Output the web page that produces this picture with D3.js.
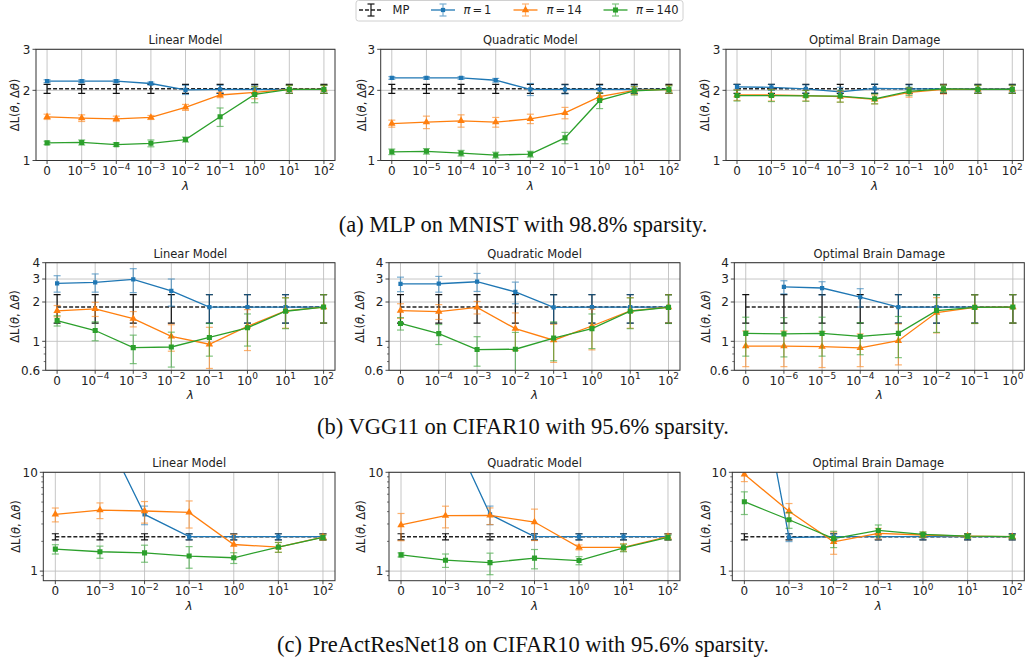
<!DOCTYPE html>
<html>
<head>
<meta charset="utf-8">
<script src="https://cdn.jsdelivr.net/npm/d3@7"></script>
<style>
  body { margin: 0; background: #fff; }
  svg { display: block; }
</style>
</head>
<body>
<svg id="fig" width="1026" height="659"></svg>
<script>
// ---------------- lambda tick labels ("0" = no penalty, "1eK" = 10^K) ----------------
const lambdaA    = ["0", "1e-5", "1e-4", "1e-3", "1e-2", "1e-1", "1e0", "1e1", "1e2"];
const lambdaB    = ["0", "1e-4", "1e-3", "1e-2", "1e-1", "1e0", "1e1", "1e2"];
const lambdaBObd = ["0", "1e-6", "1e-5", "1e-4", "1e-3", "1e-2", "1e-1", "1e0"];
const lambdaC    = ["0", "1e-3", "1e-2", "1e-1", "1e0", "1e1", "1e2"];

const legendLabels = ["MP", "1", "14", "140"];
const captions = [
  "(a) MLP on MNIST with 98.8% sparsity.",
  "(b) VGG11 on CIFAR10 with 95.6% sparsity.",
  "(c) PreActResNet18 on CIFAR10 with 95.6% sparsity."
];
const panelTitles = ["Linear Model", "Quadratic Model", "Optimal Brain Damage"];

// y ticks per row
const yTicksA = [1, 2, 3];
const yTicksB = [0.6, 1, 2, 3, 4];
const yTicksC = [1, 10];
const yMinorB = [0.7, 0.8, 0.9];
const yMinorC = [0.9, 2, 3, 4, 5, 6, 7, 8, 9];

// ---------------- (a) MLP on MNIST ----------------
const aMP    = [2.03, 2.03, 2.03, 2.03, 2.03, 2.03, 2.03, 2.03, 2.03];
const aMPErr = [0.09, 0.09, 0.09, 0.09, 0.09, 0.09, 0.09, 0.09, 0.09];

const aLinPi1      = [2.19, 2.19, 2.19, 2.14, 2.01, 2.02, 2.02, 2.02, 2.02];
const aLinPi1Err   = [0.03, 0.03, 0.03, 0.03, 0.09, 0.08, 0.08, 0.08, 0.08];
const aLinPi14     = [1.54, 1.52, 1.51, 1.53, 1.69, 1.91, 1.96, 2.02, 2.02];
const aLinPi14Err  = [0.04, 0.05, 0.04, 0.03, 0.05, 0.05, 0.12, 0.08, 0.08];
const aLinPi140    = [1.19, 1.195, 1.17, 1.185, 1.23, 1.54, 1.92, 2.02, 2.02];
const aLinPi140Err = [0.02, 0.03, 0.02, 0.04, 0.03, 0.14, 0.15, 0.08, 0.08];

const aQuadPi1      = [2.26, 2.26, 2.26, 2.21, 2.02, 2.02, 2.02, 2.02, 2.02];
const aQuadPi1Err   = [0.03, 0.03, 0.03, 0.04, 0.12, 0.09, 0.08, 0.08, 0.08];
const aQuadPi14     = [1.44, 1.46, 1.48, 1.46, 1.51, 1.60, 1.88, 2.00, 2.02];
const aQuadPi14Err  = [0.05, 0.09, 0.09, 0.07, 0.07, 0.09, 0.07, 0.08, 0.08];
const aQuadPi140    = [1.09, 1.095, 1.075, 1.055, 1.065, 1.25, 1.81, 1.99, 2.02];
const aQuadPi140Err = [0.03, 0.03, 0.03, 0.03, 0.03, 0.07, 0.14, 0.08, 0.07];

const aObdPi1      = [2.07, 2.06, 2.03, 1.97, 2.04, 2.03, 2.03, 2.03, 2.03];
const aObdPi1Err   = [0.05, 0.06, 0.08, 0.09, 0.09, 0.08, 0.08, 0.08, 0.08];
const aObdPi14     = [1.91, 1.91, 1.90, 1.88, 1.83, 1.96, 2.02, 2.02, 2.02];
const aObdPi14Err  = [0.10, 0.11, 0.10, 0.10, 0.08, 0.09, 0.09, 0.08, 0.08];
const aObdPi140    = [1.90, 1.90, 1.895, 1.89, 1.84, 1.98, 2.03, 2.02, 2.02];
const aObdPi140Err = [0.10, 0.11, 0.10, 0.11, 0.09, 0.08, 0.07, 0.08, 0.08];

// ---------------- (b) VGG11 on CIFAR10 ----------------
const bMP    = [1.83, 1.83, 1.83, 1.83, 1.83, 1.83, 1.83, 1.83];
const bMPErr = [0.45, 0.45, 0.45, 0.45, 0.45, 0.45, 0.45, 0.45];

const bLinPi1      = [2.78, 2.83, 2.98, 2.43, 1.83, 1.83, 1.83, 1.83];
const bLinPi1Err   = [0.40, 0.45, 0.62, 0.57, 0.45, 0.45, 0.45, 0.45];
const bLinPi14     = [1.71, 1.77, 1.49, 1.09, 0.95, 1.30, 1.71, 1.83];
const bLinPi14Err  = [0.17, 0.22, 0.20, 0.25, 0.33, 0.45, 0.45, 0.45];
const bLinPi140    = [1.44, 1.21, 0.895, 0.905, 1.07, 1.27, 1.70, 1.83];
const bLinPi140Err = [0.13, 0.20, 0.22, 0.27, 0.30, 0.35, 0.45, 0.45];

const bQuadPi1      = [2.75, 2.76, 2.86, 2.39, 1.82, 1.83, 1.83, 1.83];
const bQuadPi1Err   = [0.35, 0.38, 0.45, 0.45, 0.45, 0.45, 0.45, 0.45];
const bQuadPi14     = [1.72, 1.69, 1.82, 1.25, 1.02, 1.31, 1.71, 1.83];
const bQuadPi14Err  = [0.22, 0.22, 0.20, 0.40, 0.33, 0.45, 0.45, 0.45];
const bQuadPi140    = [1.37, 1.145, 0.865, 0.87, 1.06, 1.25, 1.70, 1.82];
const bQuadPi140Err = [0.15, 0.20, 0.22, 0.30, 0.35, 0.37, 0.45, 0.45];

const bObdPi1      = [null, 2.61, 2.56, 2.18, 1.83, 1.83, 1.83, 1.83];
const bObdPi1Err   = [null, 0.30, 0.30, 0.35, 0.45, 0.45, 0.45, 0.45];
const bObdPi14     = [0.92, 0.92, 0.91, 0.89, 1.01, 1.66, 1.82, 1.83];
const bObdPi14Err  = [0.28, 0.28, 0.28, 0.25, 0.35, 0.50, 0.45, 0.45];
const bObdPi140    = [1.15, 1.14, 1.15, 1.09, 1.15, 1.72, 1.82, 1.83];
const bObdPi140Err = [0.38, 0.38, 0.38, 0.30, 0.40, 0.55, 0.45, 0.45];

// ---------------- (c) PreActResNet18 on CIFAR10 ----------------
const cMP    = [2.23, 2.23, 2.23, 2.23, 2.23, 2.23, 2.23];
const cMPErr = [0.16, 0.16, 0.16, 0.16, 0.16, 0.16, 0.16];

const cLinPi1      = [90, 31, 3.75, 2.23, 2.23, 2.23, 2.23];
const cLinPi1Err   = [0, 0, 0.80, 0.15, 0.15, 0.15, 0.15];
const cLinPi14     = [3.75, 4.15, 4.06, 3.93, 1.86, 1.75, 2.21];
const cLinPi14Err  = [0.60, 0.75, 1.00, 1.20, 0.50, 0.20, 0.15];
const cLinPi140    = [1.67, 1.57, 1.53, 1.42, 1.365, 1.75, 2.19];
const cLinPi140Err = [0.18, 0.22, 0.30, 0.35, 0.17, 0.20, 0.12];

const cQuadPi1      = [100, 35, 3.75, 2.23, 2.23, 2.23, 2.23];
const cQuadPi1Err   = [0, 0, 0.80, 0.15, 0.15, 0.15, 0.15];
const cQuadPi14     = [2.93, 3.64, 3.66, 3.14, 1.74, 1.74, 2.23];
const cQuadPi14Err  = [0.90, 0.90, 0.70, 1.10, 0.10, 0.15, 0.15];
const cQuadPi140    = [1.46, 1.29, 1.22, 1.355, 1.28, 1.72, 2.19];
const cQuadPi140Err = [0.07, 0.20, 0.30, 0.30, 0.12, 0.15, 0.12];

const cObdPi1      = [540, 2.19, 2.23, 2.23, 2.23, 2.23, 2.23];
const cObdPi1Err   = [0, 0.20, 0.15, 0.15, 0.15, 0.15, 0.15];
const cObdPi14     = [9.55, 4.03, 1.98, 2.41, 2.32, 2.26, 2.23];
const cObdPi14Err  = [1.50, 0.80, 0.50, 0.30, 0.15, 0.10, 0.10];
const cObdPi140    = [5.04, 3.31, 2.13, 2.58, 2.35, 2.26, 2.23];
const cObdPi140Err = [1.30, 0.60, 0.40, 0.35, 0.15, 0.10, 0.10];

// ---------------- styling ----------------
const FONT = "'DejaVu Sans', sans-serif";
const COLORS = ["#1f77b4", "#ff7f0e", "#2ca02c"];
const SYMBOLS = [
  d3.symbol().type(d3.symbolSquare).size(18),
  d3.symbol().type(d3.symbolTriangle).size(24),
  d3.symbol().type(d3.symbolSquare).size(26)
];

// ---------------- layout of the three rows ----------------
const rows = [
  { top: 49.3,  bottom: 160.5, pad: 0.32, yDomain: [1, 3],    yTicks: yTicksA, yMinor: [],      caption: captions[0], capY: 232 },
  { top: 262.7, bottom: 370.3, pad: 0.30, yDomain: [0.6, 4],  yTicks: yTicksB, yMinor: yMinorB, caption: captions[1], capY: 434 },
  { top: 472.3, bottom: 580.7, pad: 0.27, yDomain: [0.8, 10], yTicks: yTicksC, yMinor: yMinorC, caption: captions[2], capY: 652 }
];

const panels = [
  { row: 0, x0: 36,    x1: 335,    yl: 19,  title: panelTitles[0], cats: lambdaA, mp: [aMP, aMPErr],
    s: [[aLinPi1, aLinPi1Err], [aLinPi14, aLinPi14Err], [aLinPi140, aLinPi140Err]] },
  { row: 0, x0: 380.7, x1: 680,    yl: 366, title: panelTitles[1], cats: lambdaA, mp: [aMP, aMPErr],
    s: [[aQuadPi1, aQuadPi1Err], [aQuadPi14, aQuadPi14Err], [aQuadPi140, aQuadPi140Err]] },
  { row: 0, x0: 726,   x1: 1023.3, yl: 709, title: panelTitles[2], cats: lambdaA, mp: [aMP, aMPErr],
    s: [[aObdPi1, aObdPi1Err], [aObdPi14, aObdPi14Err], [aObdPi140, aObdPi140Err]] },

  { row: 1, x0: 45.7,  x1: 335,    yl: 19,  title: panelTitles[0], cats: lambdaB, mp: [bMP, bMPErr],
    s: [[bLinPi1, bLinPi1Err], [bLinPi14, bLinPi14Err], [bLinPi140, bLinPi140Err]] },
  { row: 1, x0: 389,   x1: 680,    yl: 364, title: panelTitles[1], cats: lambdaB, mp: [bMP, bMPErr],
    s: [[bQuadPi1, bQuadPi1Err], [bQuadPi14, bQuadPi14Err], [bQuadPi140, bQuadPi140Err]] },
  { row: 1, x0: 734.3, x1: 1024.3, yl: 710, title: panelTitles[2], cats: lambdaBObd, mp: [bMP, bMPErr],
    s: [[bObdPi1, bObdPi1Err], [bObdPi14, bObdPi14Err], [bObdPi140, bObdPi140Err]] },

  { row: 2, x0: 43.3,  x1: 335,    yl: 20,  title: panelTitles[0], cats: lambdaC, mp: [cMP, cMPErr],
    s: [[cLinPi1, cLinPi1Err], [cLinPi14, cLinPi14Err], [cLinPi140, cLinPi140Err]] },
  { row: 2, x0: 389,   x1: 680,    yl: 365, title: panelTitles[1], cats: lambdaC, mp: [cMP, cMPErr],
    s: [[cQuadPi1, cQuadPi1Err], [cQuadPi14, cQuadPi14Err], [cQuadPi140, cQuadPi140Err]] },
  { row: 2, x0: 732.3, x1: 1024.3, yl: 710, title: panelTitles[2], cats: lambdaC, mp: [cMP, cMPErr],
    s: [[cObdPi1, cObdPi1Err], [cObdPi14, cObdPi14Err], [cObdPi140, cObdPi140Err]] }
];

const svg = d3.select("#fig");

// writes "0" or "10" with a superscript exponent
function lambdaLabel(sel, s) {
  if (s === "0") { sel.text("0"); return; }
  const exp = s.slice(2).replace("-", "\u2212");
  sel.append("tspan").text("10");
  sel.append("tspan").attr("dy", -5.5).attr("font-size", 9).text(exp);
}

function drawErrorBars(g, x, y, vals, errs, color, opacity, cap) {
  vals.forEach((v, i) => {
    if (v == null || !errs[i]) return;
    const lo = y(Math.max(v - errs[i], 1e-3)), hi = y(v + errs[i]), cx = x(i);
    const eg = g.append("g").attr("stroke", color).attr("stroke-width", 1.2).attr("opacity", opacity);
    eg.append("line").attr("x1", cx).attr("x2", cx).attr("y1", lo).attr("y2", hi);
    eg.append("line").attr("x1", cx - cap).attr("x2", cx + cap).attr("y1", lo).attr("y2", lo);
    eg.append("line").attr("x1", cx - cap).attr("x2", cx + cap).attr("y1", hi).attr("y2", hi);
  });
}

panels.forEach((p, pi) => {
  const r = rows[p.row];
  const n = p.cats.length;
  const x = d3.scalePoint().domain(d3.range(n)).range([p.x0, p.x1]).padding(r.pad);
  const y = d3.scaleLog().domain(r.yDomain).range([r.bottom, r.top]);
  const g = svg.append("g");

  const clipId = "clip" + pi;
  g.append("clipPath").attr("id", clipId).append("rect")
    .attr("x", p.x0).attr("y", r.top).attr("width", p.x1 - p.x0).attr("height", r.bottom - r.top);

  // grid
  const grid = g.append("g").attr("stroke", "#bfbfbf").attr("stroke-width", 0.9);
  d3.range(n).forEach(i => grid.append("line")
    .attr("x1", x(i)).attr("x2", x(i)).attr("y1", r.top).attr("y2", r.bottom));
  r.yTicks.forEach(t => grid.append("line")
    .attr("x1", p.x0).attr("x2", p.x1).attr("y1", y(t)).attr("y2", y(t)));

  const plot = g.append("g").attr("clip-path", `url(#${clipId})`);

  // magnitude pruning baseline
  drawErrorBars(plot, x, y, p.mp[0], p.mp[1], "#111", 1, 3.5);
  plot.append("path").datum(p.mp[0])
    .attr("d", d3.line().x((d, i) => x(i)).y(d => y(d)))
    .attr("fill", "none").attr("stroke", "#222").attr("stroke-width", 1.5)
    .attr("stroke-dasharray", "4,2");

  // pi series
  p.s.forEach(([vals, errs], si) => {
    const col = COLORS[si];
    drawErrorBars(plot, x, y, vals, errs, col, 0.6, 3.5);
    plot.append("path").datum(vals)
      .attr("d", d3.line().defined(d => d != null).x((d, i) => x(i)).y(d => y(d)))
      .attr("fill", "none").attr("stroke", col).attr("stroke-width", 1.3);
    vals.forEach((v, i) => {
      if (v == null) return;
      plot.append("path").attr("d", SYMBOLS[si]())
        .attr("transform", `translate(${x(i)},${y(v)})`).attr("fill", col);
    });
  });

  // frame
  g.append("rect").attr("x", p.x0).attr("y", r.top)
    .attr("width", p.x1 - p.x0).attr("height", r.bottom - r.top)
    .attr("fill", "none").attr("stroke", "#333").attr("stroke-width", 1);

  // x ticks
  const ax = g.append("g").attr("font-family", FONT).attr("font-size", 12).attr("fill", "#222");
  d3.range(n).forEach(i => {
    ax.append("line").attr("x1", x(i)).attr("x2", x(i))
      .attr("y1", r.bottom).attr("y2", r.bottom + 3.5).attr("stroke", "#333").attr("stroke-width", 0.9);
    const t = ax.append("text").attr("x", x(i)).attr("y", r.bottom + 14.5).attr("text-anchor", "middle");
    lambdaLabel(t, p.cats[i]);
  });

  // y ticks
  r.yTicks.forEach(t => {
    ax.append("line").attr("x1", p.x0 - 3.5).attr("x2", p.x0)
      .attr("y1", y(t)).attr("y2", y(t)).attr("stroke", "#333").attr("stroke-width", 0.9);
    ax.append("text").attr("x", p.x0 - 5.5).attr("y", y(t)).attr("dy", "0.35em")
      .attr("text-anchor", "end").text(String(t));
  });
  r.yMinor.forEach(t => {
    ax.append("line").attr("x1", p.x0 - 2).attr("x2", p.x0)
      .attr("y1", y(t)).attr("y2", y(t)).attr("stroke", "#333").attr("stroke-width", 0.7);
  });

  // axis labels and title
  ax.append("text").attr("x", (p.x0 + p.x1) / 2).attr("y", r.bottom + 29)
    .attr("text-anchor", "middle").attr("font-style", "italic").attr("font-size", 12).text("λ");
  const yl = ax.append("text").attr("font-size", 11.5)
    .attr("transform", `translate(${p.yl},${(r.top + r.bottom) / 2}) rotate(-90)`)
    .attr("text-anchor", "middle");
  yl.append("tspan").text("ΔL(");
  yl.append("tspan").attr("font-style", "italic").text("θ");
  yl.append("tspan").text(", Δ");
  yl.append("tspan").attr("font-style", "italic").text("θ");
  yl.append("tspan").text(")");
  ax.append("text").attr("x", (p.x0 + p.x1) / 2).attr("y", r.top - 5)
    .attr("text-anchor", "middle").attr("font-size", 11.5).text(p.title);
});

// sub-figure captions
rows.forEach(r => {
  svg.append("text").attr("x", 523).attr("y", r.capY).attr("text-anchor", "middle")
    .attr("font-family", "'Liberation Serif', 'Times New Roman', serif").attr("font-size", 22.5)
    .attr("fill", "#111").text(r.caption);
});

// legend
const lg = svg.append("g").attr("font-family", FONT).attr("font-size", 11.5).attr("fill", "#222");
lg.append("rect").attr("x", 356).attr("y", 0.5).attr("width", 327).attr("height", 20.5)
  .attr("rx", 2.5).attr("fill", "#fff").attr("stroke", "#d0d0d0").attr("stroke-width", 1);
const handles = [
  { x: 359, tx: 392.5, color: "#222", dash: "4,2", sym: null },
  { x: 431, tx: 463.5, color: COLORS[0], dash: null, sym: SYMBOLS[0] },
  { x: 513.5, tx: 546.5, color: COLORS[1], dash: null, sym: SYMBOLS[1] },
  { x: 603.5, tx: 636, color: COLORS[2], dash: null, sym: SYMBOLS[2] }
];
handles.forEach((h, i) => {
  const cy = 10, cx = h.x + 12, op = i === 0 ? 1 : 0.6;
  lg.append("line").attr("x1", h.x).attr("x2", h.x + 24).attr("y1", cy).attr("y2", cy)
    .attr("stroke", h.color).attr("stroke-width", i === 0 ? 1.5 : 1.3)
    .attr("stroke-dasharray", h.dash);
  const eg = lg.append("g").attr("stroke", i === 0 ? "#111" : h.color).attr("stroke-width", 1.2).attr("opacity", op);
  eg.append("line").attr("x1", cx).attr("x2", cx).attr("y1", cy - 6).attr("y2", cy + 6);
  eg.append("line").attr("x1", cx - 3.5).attr("x2", cx + 3.5).attr("y1", cy - 6).attr("y2", cy - 6);
  eg.append("line").attr("x1", cx - 3.5).attr("x2", cx + 3.5).attr("y1", cy + 6).attr("y2", cy + 6);
  if (h.sym) lg.append("path").attr("d", h.sym()).attr("transform", `translate(${cx},${cy})`).attr("fill", h.color);
  const t = lg.append("text").attr("x", h.tx).attr("y", 14);
  if (i === 0) { t.text(legendLabels[0]); }
  else {
    t.append("tspan").attr("font-style", "italic").text("π");
    t.append("tspan").attr("dx", 2).text("=");
    t.append("tspan").attr("dx", 2).text(legendLabels[i]);
  }
});
</script>
</body>
</html>
